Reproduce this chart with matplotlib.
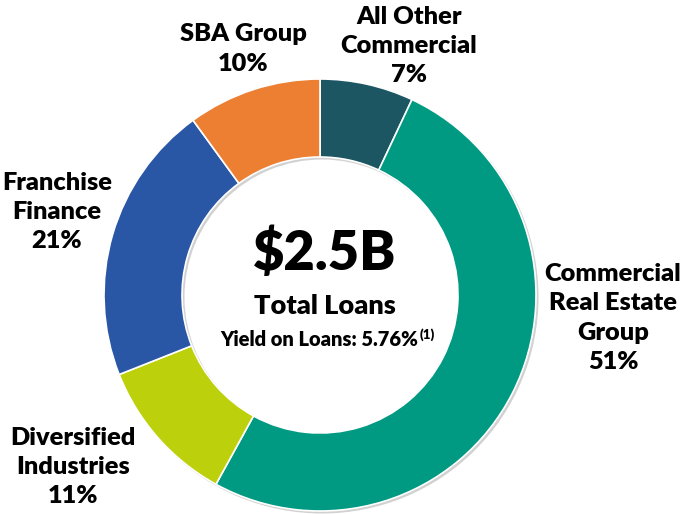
import matplotlib
matplotlib.use("Agg")
import matplotlib.pyplot as plt
from matplotlib.patches import Wedge

plt.rcParams['font.family'] = ['Lato', 'DejaVu Sans']

categories = ["All Other\nCommercial", "Commercial\nReal Estate\nGroup", "Diversified\nIndustries",
              "Franchise\nFinance", "SBA Group"]
shares = [7, 51, 11, 21, 10]
colors = ["#1B5662", "#009A82", "#BDD00C", "#2A56A6", "#ED7F33"]
label_pos = [(409, 46), (613, 318), (73, 467), (57, 212), (243, 49)]  # image px

W, H = 685, 514
fig = plt.figure(figsize=(6.85, 5.14), dpi=100)
ax = fig.add_axes([0, 0, 1, 1])
ax.set_xlim(0, W)
ax.set_ylim(0, H)
ax.set_aspect('equal')
ax.axis('off')

cx, cy, R, w = 320, H - 295, 216, 78

# subtle shadow
ax.add_patch(Wedge((cx + 2, cy - 2), R + 0.5, 0, 360, width=w + 1, facecolor="#9a9a9a",
                   alpha=0.45, edgecolor='none', zorder=0))

ax.pie(shares, colors=colors, startangle=90, counterclock=False, center=(cx, cy), radius=R,
       wedgeprops=dict(width=w, edgecolor='white', linewidth=1.2), frame=True)
ax.set_xlim(0, W)
ax.set_ylim(0, H)
ax.axis('off')

for lab, s, (x, y) in zip(categories, shares, label_pos):
    ax.text(x, H - y, f"{lab}\n{s}%", ha='center', va='center', fontsize=18.3,
            fontweight='heavy', linespacing=1.4, color='black')

ax.text(325, H - 253, "$2.5B", ha='center', va='center', fontsize=39, fontweight='heavy')
ax.text(325, H - 306, "Total Loans", ha='center', va='center', fontsize=19.5, fontweight='heavy')
t = ax.text(319, H - 339, "Yield on Loans: 5.76%", ha='center', va='center', fontsize=14.5,
            fontweight='heavy')
ax.annotate("(1)", xy=(1, 1), xycoords=t, ha='left', va='top', fontsize=9.5, fontweight='heavy',
            xytext=(1, 1), textcoords='offset points')

fig.savefig("out.png", dpi=100)
